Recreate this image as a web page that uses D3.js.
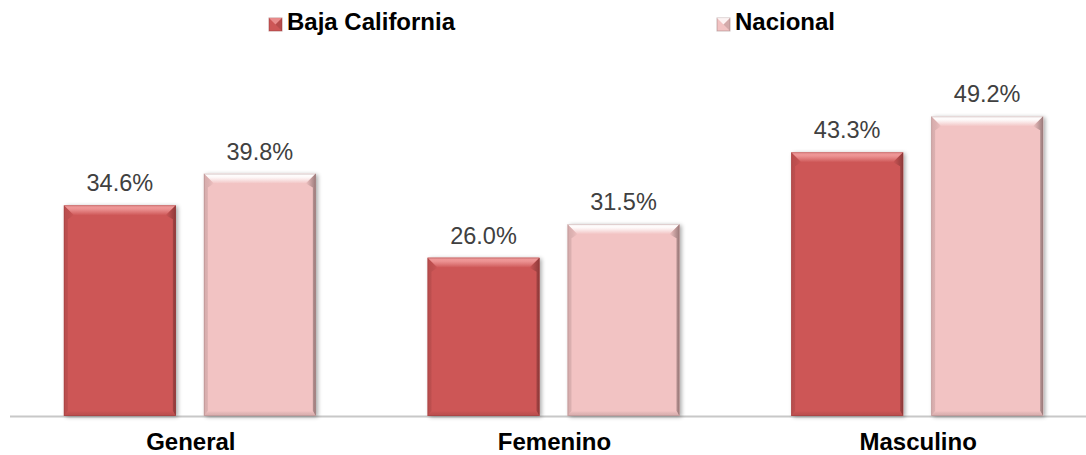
<!DOCTYPE html>
<html>
<head>
<meta charset="utf-8">
<script src="https://cdn.jsdelivr.net/npm/d3@7/dist/d3.min.js"></script>
<style>
  html, body { margin: 0; padding: 0; background: #ffffff; }
  svg { display: block; font-family: Arial, "Liberation Sans", sans-serif; }
</style>
</head>
<body>
<svg id="chart" width="1086" height="455"></svg>
<script>
// Percentages by group, Baja California vs. national figure
const categories = ["General", "Femenino", "Masculino"];
const seriesNames = ["Baja California", "Nacional"];
const bajaCalifornia = [34.6, 26.0, 43.3];
const nacional = [39.8, 31.5, 49.2];

const colors = {
  "Baja California": { base: "#cd5656", light: "#f09a9a", dark: "#8e3a3a" },
  "Nacional": { base: "#f2c3c3", light: "#ffffff", dark: "#9a7a7a" }
};

const W = 1086, H = 455;
const baseY = 416;
const svg = d3.select("#chart");

const rows = categories.map((c, i) => ({
  category: c,
  values: [
    { series: seriesNames[0], value: bajaCalifornia[i] },
    { series: seriesNames[1], value: nacional[i] }
  ]
}));

const x0 = d3.scaleBand().domain(categories).range([8, 1099]).paddingInner(0).paddingOuter(0);
const x1 = d3.scaleBand().domain(seriesNames).range([0, 252]).paddingInner(28 / 140).paddingOuter(0);
const y = d3.scaleLinear().domain([0, 60]).range([baseY, baseY - 365.4]);

const defs = svg.append("defs");
seriesNames.forEach((s, k) => {
  const c = colors[s];
  const g = defs.append("linearGradient").attr("id", "top" + k).attr("x1", 0).attr("y1", 0).attr("x2", 0).attr("y2", 1);
  g.append("stop").attr("offset", 0).attr("stop-color", c.light);
  g.append("stop").attr("offset", 0.35).attr("stop-color", c.light).attr("stop-opacity", 0.9);
  g.append("stop").attr("offset", 1).attr("stop-color", c.base);
  const r = defs.append("linearGradient").attr("id", "right" + k).attr("x1", 0).attr("y1", 0).attr("x2", 1).attr("y2", 0);
  r.append("stop").attr("offset", 0).attr("stop-color", c.base);
  r.append("stop").attr("offset", 1).attr("stop-color", c.dark);
  const l = defs.append("linearGradient").attr("id", "left" + k).attr("x1", 0).attr("y1", 0).attr("x2", 1).attr("y2", 0);
  l.append("stop").attr("offset", 0).attr("stop-color", c.dark).attr("stop-opacity", 0.5);
  l.append("stop").attr("offset", 1).attr("stop-color", c.base);
  const b = defs.append("linearGradient").attr("id", "bot" + k).attr("x1", 0).attr("y1", 0).attr("x2", 0).attr("y2", 1);
  b.append("stop").attr("offset", 0).attr("stop-color", c.base);
  b.append("stop").attr("offset", 1).attr("stop-color", c.dark).attr("stop-opacity", 0.6);
});
const sh = defs.append("filter").attr("id", "shadow").attr("x", "-10%").attr("y", "-10%").attr("width", "130%").attr("height", "130%");
sh.append("feGaussianBlur").attr("in", "SourceAlpha").attr("stdDeviation", 2);
sh.append("feOffset").attr("dx", 2).attr("dy", 1).attr("result", "ob");
sh.append("feComponentTransfer").append("feFuncA").attr("type", "linear").attr("slope", 0.35);
const merge = sh.append("feMerge");
merge.append("feMergeNode");
merge.append("feMergeNode").attr("in", "SourceGraphic");

// Baseline
svg.append("line")
  .attr("x1", 10).attr("x2", W)
  .attr("y1", baseY + 0.5).attr("y2", baseY + 0.5)
  .attr("stroke", "#c8c8c8").attr("stroke-width", 2);

// Beveled bars
const groups = svg.append("g").selectAll("g").data(rows).join("g")
  .attr("transform", d => `translate(${x0(d.category) + (x0.bandwidth() - 252) / 2},0)`);

groups.each(function(d) {
  const g = d3.select(this);
  d.values.forEach(v => {
    const k = seriesNames.indexOf(v.series);
    const c = colors[v.series];
    const bx = x1(v.series), bw = x1.bandwidth();
    const top = y(v.value), bot = y(0);
    const bar = g.append("g");
    bar.append("rect").attr("x", bx).attr("y", top).attr("width", bw).attr("height", bot - top)
      .attr("fill", c.base).attr("filter", "url(#shadow)");
    const t = 10, s = 4, rt = 3, bb = 5;
    // top bevel
    bar.append("path").attr("d", `M${bx},${top}L${bx + bw},${top}L${bx + bw - t},${top + t}L${bx + t},${top + t}Z`)
      .attr("fill", `url(#top${k})`);
    // left bevel
    bar.append("path").attr("d", `M${bx},${top}L${bx + t},${top + t}L${bx + s},${top + t + 4}L${bx + s},${bot - bb}L${bx},${bot}Z`)
      .attr("fill", `url(#left${k})`).attr("opacity", 0.6);
    // right bevel
    bar.append("path").attr("d", `M${bx + bw},${top}L${bx + bw - t},${top + t}L${bx + bw - rt},${top + t + 4}L${bx + bw - rt},${bot - bb}L${bx + bw},${bot}Z`)
      .attr("fill", `url(#right${k})`);
    // bottom bevel
    bar.append("path").attr("d", `M${bx},${bot}L${bx + s},${bot - bb}L${bx + bw - rt},${bot - bb}L${bx + bw},${bot}Z`)
      .attr("fill", `url(#bot${k})`).attr("opacity", 0.5);
    // outline
    bar.append("rect").attr("x", bx + 0.5).attr("y", top + 0.5).attr("width", bw - 1).attr("height", bot - top - 1)
      .attr("fill", "none").attr("stroke", c.dark).attr("stroke-opacity", 0.35);
    // value label
    g.append("text")
      .attr("x", bx + bw / 2).attr("y", top - 14)
      .attr("text-anchor", "middle")
      .attr("font-size", 23.5).attr("fill", "#404040")
      .text(v.value.toFixed(1) + "%");
  });
});

// Category axis labels
svg.append("g").selectAll("text").data(categories).join("text")
  .attr("x", d => x0(d) + x0.bandwidth() / 2 + 1)
  .attr("y", 450)
  .attr("text-anchor", "middle")
  .attr("font-size", 24).attr("font-weight", "bold").attr("fill", "#000")
  .text(d => d);

// Legend
const legendX = [269, 717];
const legend = svg.append("g").selectAll("g").data(seriesNames).join("g")
  .attr("transform", (d, i) => `translate(${legendX[i]},18)`);
legend.each(function(s) {
  const g = d3.select(this);
  const c = colors[s];
  const m = 13;
  g.append("rect").attr("width", m).attr("height", m).attr("fill", c.base).attr("stroke", c.dark).attr("stroke-opacity", 0.5);
  g.append("path").attr("d", `M0,0L${m},0L${m / 2},${m / 2}Z`).attr("fill", c.light).attr("opacity", 0.8);
  g.append("path").attr("d", `M${m},0L${m},${m}L${m / 2},${m / 2}Z`).attr("fill", c.dark).attr("opacity", 0.35);
  g.append("text").attr("x", 18).attr("y", 11.5)
    .attr("font-size", 24).attr("font-weight", "bold").attr("fill", "#000")
    .text(s);
});
</script>
</body>
</html>
